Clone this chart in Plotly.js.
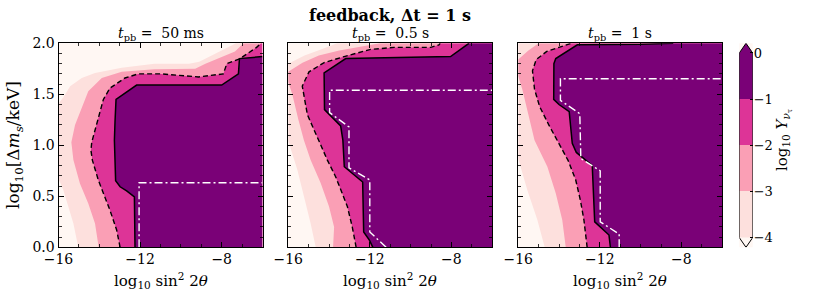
<!DOCTYPE html>
<html><head><meta charset="utf-8">
<script src="https://cdn.plot.ly/plotly-3.0.1.min.js"></script>
<style>html,body{margin:0;padding:0;background:#fff;}</style>
</head><body><div id="chart" style="width:830px;height:291px;"></div>
<script>
// ---------------- data ----------------
const xRange = [-16, -6];
const yRange = [0, 2];
const levels = [-4, -3, -2, -1, 0];
const cbExtend = 0.21;           // length of the colorbar's extension triangles (in level units)
const xTicks = [-16, -12, -8];
const yTicks = [0, 0.5, 1, 1.5, 2];
const panelTitles = ['<i>t</i><sub>pb</sub> =  50 ms', '<i>t</i><sub>pb</sub> =  0.5 s', '<i>t</i><sub>pb</sub> =  1 s'];
const mainTitle = '<b>feedback, Δt = 1 s</b>';
const xTitle = 'log<sub>10</sub> sin<sup>2</sup> 2<i>θ</i>';
const yTitle = 'log<sub>10</sub>[Δ<i>m</i><sub><i>s</i></sub>/keV]';
const cbTitle = 'log<sub>10</sub> <i>Y</i><sub><i>ν</i><sub>τ</sub></sub>';

// contour boundaries [log10 sin^2 2θ, log10 Δm] ; level -4, -3, -2 (dashed), -1 (solid)
const p1Lev4 = [[-15.03,0],[-15.27,0.234],[-15.52,0.40],[-15.76,0.56],[-15.93,0.64],[-16,0.66],[-16,1.41],[-15.76,1.47],[-15.43,1.58],[-14.86,1.66],[-14.21,1.71],[-12.9,1.76],[-11.3,1.80],[-9.6,1.80],[-9.1,1.82],[-8.5,1.88],[-7.8,1.95],[-7.3,2.0]];
const p1Lev3 = [[-14.03,0],[-14.21,0.234],[-14.54,0.43],[-14.95,0.626],[-15.27,0.855],[-15.37,1.03],[-15.19,1.2],[-14.78,1.4],[-14.54,1.53],[-13.88,1.66],[-12.9,1.72],[-11.3,1.745],[-9.3,1.75],[-8.8,1.80],[-8.0,1.87],[-7.35,1.92],[-6.93,2.0]];
const p1Lev2 = [[-12.98,0],[-13.15,0.17],[-13.48,0.365],[-13.72,0.495],[-14.05,0.66],[-14.34,0.855],[-14.41,0.95],[-14.37,1.03],[-14.13,1.2],[-13.8,1.45],[-13.48,1.56],[-12.74,1.66],[-12.09,1.70],[-10.94,1.70],[-9.14,1.67],[-7.92,1.70],[-7.75,1.80],[-7.1,1.85],[-6.29,1.96],[-6.07,2.0]];
const p1Lev1 = [[-12.25,0],[-12.28,0.267],[-12.28,0.495],[-12.66,0.554],[-12.98,0.593],[-13.2,0.652],[-13.23,0.855],[-13.26,1.05],[-13.23,1.23],[-13.18,1.45],[-12.17,1.59],[-8.0,1.59],[-7.18,1.70],[-7.13,1.85],[-6.0,1.87]];
const p1White = [[-12.05,0],[-12.05,0.633],[-6,0.633]];

const p2Lev4 = [[-14.65,0],[-14.9,0.234],[-15.23,0.5],[-15.55,0.757],[-15.96,1.02],[-16,1.04],[-16,1.80],[-15.2,1.88],[-14.4,1.94],[-13.6,2.0]];
const p2Lev3 = [[-13.8,0],[-13.75,0.2],[-14.0,0.4],[-14.41,0.63],[-14.9,0.855],[-15.23,1.05],[-15.5,1.25],[-15.8,1.5],[-16,1.62],[-16,1.72],[-15.3,1.81],[-14.5,1.88],[-13.5,1.93],[-12.3,1.97],[-11.5,2.0]];
const p2Lev2 = [[-12.67,0],[-12.86,0.2],[-13.1,0.4],[-13.43,0.56],[-13.67,0.69],[-14.08,0.855],[-14.45,1.03],[-15.06,1.30],[-15.31,1.58],[-14.98,1.72],[-14.24,1.81],[-13.26,1.87],[-11.96,1.94],[-10.81,1.96],[-9.01,1.96],[-8.61,1.985],[-8.55,2.0]];
const p2Lev1 = [[-11.85,0],[-12.02,0.07],[-12.3,0.15],[-12.35,0.64],[-13.25,0.79],[-13.32,1.05],[-13.43,1.19],[-14.0,1.30],[-14.22,1.35],[-14.24,1.71],[-13.18,1.85],[-8.04,1.87],[-7.22,1.985],[-7.14,2.0]];
const p2White = [[-11.2,0],[-12.0,0.15],[-12.0,0.66],[-13.02,0.78],[-13.02,1.18],[-13.97,1.32],[-13.97,1.54],[-6,1.54]];

const p3Lev4 = [[-14.7,0],[-15.06,0.267],[-15.55,0.56],[-15.96,0.855],[-16,0.87],[-16,2.0]];
const p3Lev3 = [[-13.67,0],[-13.84,0.267],[-14.16,0.53],[-14.57,0.79],[-15.2,1.05],[-15.5,1.3],[-15.8,1.55],[-16,1.68],[-16,1.84],[-15.5,1.93],[-15.0,2.0]];
const p3Lev2 = [[-12.62,0],[-12.78,0.27],[-12.95,0.46],[-13.18,0.66],[-13.55,0.85],[-14.1,1.05],[-14.5,1.2],[-14.95,1.38],[-15.2,1.55],[-15.3,1.73],[-15.12,1.84],[-14.6,1.92],[-13.9,1.97],[-13.4,2.0]];
const p3Lev1 = [[-11.48,0],[-11.55,0.12],[-12.25,0.25],[-12.37,0.8],[-13.15,0.93],[-13.35,1.02],[-13.5,1.33],[-14.0,1.40],[-14.26,1.45],[-14.25,1.80],[-14.16,1.85],[-13.1,1.985],[-10.0,1.99],[-8.4,2.0]];
const p3White = [[-11.05,0],[-11.05,0.13],[-11.98,0.25],[-11.98,0.75],[-12.93,0.87],[-12.98,1.31],[-13.93,1.44],[-13.93,1.652],[-6,1.652]];

// ---------------- styles / layout ----------------
const bandColors = ['#fff7f3', '#fde0dd', '#fa9fb5', '#dd3497', '#7a0177'];
const FONT = 'DejaVu Serif';
const W = 830, H = 291;
const plotTop = 43.3, plotBottom = 247.3;
const panelLeft = [58.5, 288.2, 518.2], panelWidth = 204;
const cbLeft = 739.3, cbWidth = 13.4;

const panels = [
  {lev: [p1Lev4, p1Lev3, p1Lev2, p1Lev1], white: p1White},
  {lev: [p2Lev4, p2Lev3, p2Lev2, p2Lev1], white: p2White},
  {lev: [p3Lev4, p3Lev3, p3Lev2, p3Lev1], white: p3White}
];

const xsOf = pts => pts.map(p => p[0]);
const ysOf = pts => pts.map(p => p[1]);
function region(pts) {
  const x = xsOf(pts), y = ysOf(pts);
  x.push(xRange[1], xRange[1]);
  y.push(y[y.length - 1], y[0]);
  return {x, y};
}

const traces = [];
panels.forEach((p, i) => {
  const sfx = i === 0 ? '' : String(i + 1);
  const xa = 'x' + sfx, ya = 'y' + sfx;
  p.lev.forEach((pts, k) => {
    const r = region(pts);
    traces.push({type: 'scatter', mode: 'lines', x: r.x, y: r.y, xaxis: xa, yaxis: ya,
      fill: 'toself', fillcolor: bandColors[k + 1], line: {width: 0, color: bandColors[k + 1]},
      hoverinfo: 'skip', showlegend: false});
  });
  traces.push({type: 'scatter', mode: 'lines', x: xsOf(p.lev[2]), y: ysOf(p.lev[2]), xaxis: xa, yaxis: ya,
    line: {color: '#000', width: 1.4, dash: '5px,3px'}, hoverinfo: 'skip', showlegend: false});
  traces.push({type: 'scatter', mode: 'lines', x: xsOf(p.lev[3]), y: ysOf(p.lev[3]), xaxis: xa, yaxis: ya,
    line: {color: '#000', width: 1.5}, hoverinfo: 'skip', showlegend: false});
  traces.push({type: 'scatter', mode: 'lines', x: xsOf(p.white), y: ysOf(p.white), xaxis: xa, yaxis: ya,
    line: {color: '#ffffff', width: 1.4, dash: '8px,3px,2px,3px'}, hoverinfo: 'skip', showlegend: false});
});

// colorbar bands
const lo = levels.slice(0, -1), hi = levels.slice(1);
traces.push({type: 'bar', x: lo.map(() => 0.5), y: lo.map((v, j) => hi[j] - v), base: lo, width: 1,
  xaxis: 'x4', yaxis: 'y4', marker: {color: bandColors.slice(1), line: {width: 0}},
  hoverinfo: 'skip', showlegend: false});
const cbTop = levels[levels.length - 1], cbBot = levels[0];
traces.push({type: 'scatter', mode: 'lines', x: [0, 0.5, 1, 0], y: [cbTop, cbTop + cbExtend, cbTop, cbTop],
  xaxis: 'x4', yaxis: 'y4', fill: 'toself', fillcolor: bandColors[4], line: {width: 0},
  hoverinfo: 'skip', showlegend: false});
traces.push({type: 'scatter', mode: 'lines', x: [0, 0.5, 1, 0], y: [cbBot, cbBot - cbExtend, cbBot, cbBot],
  xaxis: 'x4', yaxis: 'y4', fill: 'toself', fillcolor: bandColors[0], line: {width: 0},
  hoverinfo: 'skip', showlegend: false});
traces.push({type: 'scatter', mode: 'lines', x: [0, 0, 0.5, 1, 1, 0.5, 0],
  y: [cbBot, cbTop, cbTop + cbExtend, cbTop, cbBot, cbBot - cbExtend, cbBot],
  xaxis: 'x4', yaxis: 'y4', line: {color: '#000', width: 1}, hoverinfo: 'skip', showlegend: false});

const yDom = [1 - plotBottom / H, 1 - plotTop / H];
function xAxis(i) {
  return {domain: [panelLeft[i] / W, (panelLeft[i] + panelWidth) / W], range: xRange,
    tickmode: 'array', tickvals: xTicks, ticks: 'inside', ticklen: 5, tickwidth: 1, tickcolor: '#000',
    minor: {tick0: 0, dtick: 1, ticks: 'inside', ticklen: 3, tickwidth: 0.8, tickcolor: '#000', showgrid: false},
    showline: true, linecolor: '#000', linewidth: 1, mirror: 'allticks', showgrid: false, zeroline: false,
    tickfont: {family: FONT, size: 14, color: '#000'}, ticklabelstandoff: -1, fixedrange: true,
    anchor: i === 0 ? 'y' : 'y' + (i + 1)};
}
function yAxis(i) {
  return {domain: yDom, range: yRange, tickmode: 'array', tickvals: yTicks, tickformat: '.1f',
    ticks: 'inside', ticklen: 5, tickwidth: 1, tickcolor: '#000',
    minor: {tick0: 0, dtick: 0.1, ticks: 'inside', ticklen: 3, tickwidth: 0.8, tickcolor: '#000', showgrid: false},
    showline: true, linecolor: '#000', linewidth: 1, mirror: 'allticks', showgrid: false, zeroline: false,
    showticklabels: i === 0, tickfont: {family: FONT, size: 14, color: '#000'}, fixedrange: true,
    anchor: i === 0 ? 'x' : 'x' + (i + 1)};
}

const annotations = [];
annotations.push({text: mainTitle, xref: 'paper', yref: 'paper', x: 390 / W, y: 1 - 15 / H,
  xanchor: 'center', yanchor: 'middle', showarrow: false, font: {family: FONT, size: 16, color: '#000'}});
panelTitles.forEach((t, i) => {
  const cx = (panelLeft[i] + panelWidth / 2) / W;
  annotations.push({text: t, xref: 'paper', yref: 'paper', x: cx, y: 1 - 34 / H,
    xanchor: 'center', yanchor: 'middle', showarrow: false, font: {family: FONT, size: 14, color: '#000'}});
  annotations.push({text: xTitle, xref: 'paper', yref: 'paper', x: cx, y: 1 - 280 / H,
    xanchor: 'center', yanchor: 'middle', showarrow: false, font: {family: FONT, size: 15, color: '#000'}});
});
annotations.push({text: yTitle, xref: 'paper', yref: 'paper', x: 14 / W, y: 1 - 145 / H, textangle: -90,
  xanchor: 'center', yanchor: 'middle', showarrow: false, font: {family: FONT, size: 17, color: '#000'}});
annotations.push({text: cbTitle, xref: 'paper', yref: 'paper', x: 783 / W, y: 1 - 140 / H, textangle: -90,
  xanchor: 'center', yanchor: 'middle', showarrow: false, font: {family: FONT, size: 15, color: '#000'}});

const layout = {
  width: W, height: H, margin: {l: 0, r: 0, t: 0, b: 0},
  paper_bgcolor: '#ffffff', plot_bgcolor: bandColors[0], showlegend: false, bargap: 0,
  xaxis: xAxis(0), yaxis: yAxis(0), xaxis2: xAxis(1), yaxis2: yAxis(1), xaxis3: xAxis(2), yaxis3: yAxis(2),
  xaxis4: {domain: [cbLeft / W, (cbLeft + cbWidth) / W], range: [0, 1], visible: false, anchor: 'y4', fixedrange: true},
  yaxis4: {domain: yDom, range: [cbBot - cbExtend, cbTop + cbExtend], anchor: 'x4', side: 'right',
    tickmode: 'array', tickvals: levels, ticks: 'inside', ticklen: 3, tickcolor: '#000',
    showline: false, showgrid: false, zeroline: false, fixedrange: true,
    tickfont: {family: FONT, size: 13, color: '#000'}},
  annotations
};
Plotly.newPlot('chart', traces, layout, {staticPlot: true, displayModeBar: false});
</script></body></html>
